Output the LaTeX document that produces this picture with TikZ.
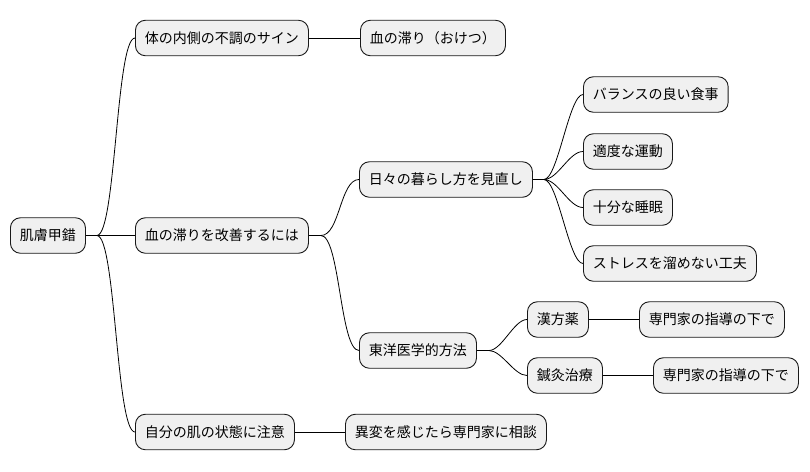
\documentclass[tikz,border=0pt]{standalone}
\usepackage{fontspec}
\setmainfont{Noto Sans CJK JP}
\usetikzlibrary{calc}
\begin{document}
\begin{tikzpicture}[x=1pt,y=-1pt,
  mm/.style={draw=black!90,fill=black!6,line width=0.9pt,rounded corners=10pt,
    minimum height=35.5pt,inner xsep=9.5pt,inner ysep=0pt,anchor=west,
    font=\fontsize{14}{17}\selectfont},
  ln/.style={line width=0.8pt,black}]
\useasboundingbox (0,0) rectangle (810,471);
\node[mm] (root) at (10,235.5) {肌膚甲錯};
\node[mm] (a) at (135,38) {体の内側の不調のサイン};
\node[mm] (a1) at (360,38) {血の滞り（おけつ）};
\node[mm] (b) at (135,235.5) {血の滞りを改善するには};
\node[mm] (b1) at (359,179.5) {日々の暮らし方を見直し};
\node[mm] (b11) at (583,94.5) {バランスの良い食事};
\node[mm] (b12) at (583,151.5) {適度な運動};
\node[mm] (b13) at (583,207.5) {十分な睡眠};
\node[mm] (b14) at (583,263.5) {ストレスを溜めない工夫};
\node[mm] (b2) at (359,350.5) {東洋医学的方法};
\node[mm] (b21) at (527,319.5) {漢方薬};
\node[mm] (b211) at (639,319.5) {専門家の指導の下で};
\node[mm] (b22) at (527,375.5) {鍼灸治療};
\node[mm] (b221) at (653,375.5) {専門家の指導の下で};
\node[mm] (c) at (135,432) {自分の肌の状態に注意};
\node[mm] (c1) at (345,432) {異変を感じたら専門家に相談};
% root branches
\draw[ln] (root.east) -- ++(11,0) coordinate (rj);
\foreach \t in {a,b,c}
  \draw[ln] (rj) .. controls ($(rj)+(19,0)$) and ($(\t.west)+(-19,0)$) .. (\t.west);
\draw[ln] (a.east) -- (a1.west);
\draw[ln] (c.east) -- (c1.west);
\draw[ln] (b.east) -- ++(12,0) coordinate (bj);
\foreach \t in {b1,b2}
  \draw[ln] (bj) .. controls ($(bj)+(19,0)$) and ($(\t.west)+(-19,0)$) .. (\t.west);
\draw[ln] (b1.east) -- ++(11,0) coordinate (b1j);
\foreach \t in {b11,b12,b13,b14}
  \draw[ln] (b1j) .. controls ($(b1j)+(14,0)$) and ($(\t.west)+(-14,0)$) .. (\t.west);
\draw[ln] (b2.east) -- ++(12,0) coordinate (b2j);
\foreach \t in {b21,b22}
  \draw[ln] (b2j) .. controls ($(b2j)+(13,0)$) and ($(\t.west)+(-13,0)$) .. (\t.west);
\draw[ln] (b21.east) -- (b211.west);
\draw[ln] (b22.east) -- (b221.west);
\end{tikzpicture}
\end{document}
